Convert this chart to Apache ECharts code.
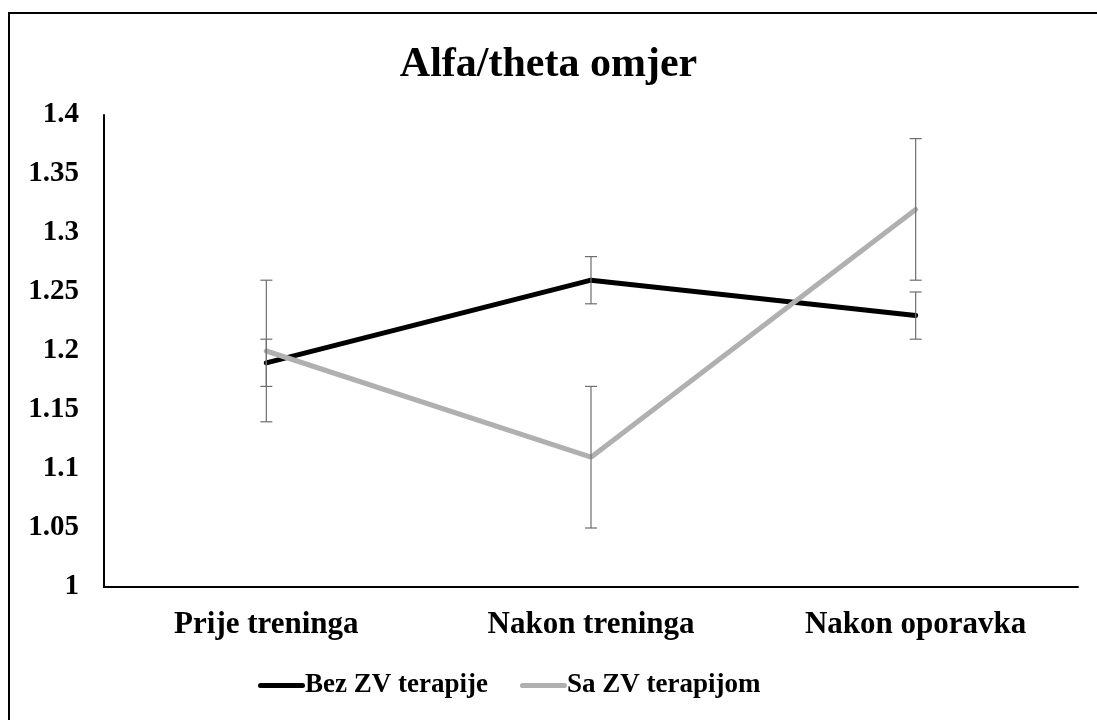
<!DOCTYPE html>
<html>
<head>
<meta charset="utf-8">
<script src="https://cdn.jsdelivr.net/npm/echarts@6/dist/echarts.min.js"></script>
<style>
  html, body { margin: 0; padding: 0; background: #fff; }
  #chart { width: 1097px; height: 720px; }
</style>
</head>
<body>
<div id="chart"></div>
<script>
// data
const categories = ["Prije treninga", "Nakon treninga", "Nakon oporavka"];
const bezValues = [1.19, 1.26, 1.23];
const bezErr = [0.02, 0.02, 0.02];
const saValues = [1.20, 1.11, 1.32];
const saErr = [0.06, 0.06, 0.06];
const yTicks = [1, 1.05, 1.1, 1.15, 1.2, 1.25, 1.3, 1.35, 1.4];

const font = "'Liberation Serif', 'Times New Roman', serif";
const lineIcon = "path://M2.5,0 L44.5,0 A2.5,2.5 0 0 1 44.5,5 L2.5,5 A2.5,2.5 0 0 1 2.5,0 Z";

function errData(vals, errs) {
  return vals.map((v, i) => [i, v - errs[i], v + errs[i]]);
}

function renderErr(params, api) {
  const x = api.value(0);
  const lo = api.coord([x, api.value(1)]);
  const hi = api.coord([x, api.value(2)]);
  const w = 6;
  const style = { stroke: "#6e6e6e", lineWidth: 1.2, fill: null };
  return {
    type: "group",
    children: [
      { type: "line", shape: { x1: hi[0], y1: hi[1], x2: lo[0], y2: lo[1] }, style: style },
      { type: "line", shape: { x1: hi[0] - w, y1: hi[1], x2: hi[0] + w, y2: hi[1] }, style: style },
      { type: "line", shape: { x1: lo[0] - w, y1: lo[1], x2: lo[0] + w, y2: lo[1] }, style: style }
    ]
  };
}

const chart = echarts.init(document.getElementById("chart"));
chart.setOption({
  animation: false,
  graphic: [{
    type: "rect",
    shape: { x: 9, y: 13, width: 1100, height: 720 },
    style: { fill: null, stroke: "#000", lineWidth: 2 },
    silent: true
  }],
  title: {
    text: "Alfa/theta omjer",
    left: "center",
    top: 39,
    textStyle: { fontFamily: font, fontSize: 42, fontWeight: "bold", color: "#000" }
  },
  legend: {
    bottom: 16,
    left: 253,
    itemWidth: 47,
    itemHeight: 5,
    itemGap: 32,
    data: [
      { name: "Bez ZV terapije", icon: lineIcon, itemStyle: { color: "#000" } },
      { name: "Sa ZV terapijom", icon: lineIcon, itemStyle: { color: "#b0b0b0" } }
    ],
    textStyle: { fontFamily: font, fontSize: 27, fontWeight: "bold", color: "#000", padding: [0, 0, 0, -5] }
  },
  grid: { left: 104, right: 19, top: 115, bottom: 133 },
  xAxis: {
    type: "category",
    data: categories,
    boundaryGap: true,
    axisLine: { lineStyle: { color: "#000", width: 2 } },
    axisTick: { show: false },
    axisLabel: { fontFamily: font, fontSize: 31, fontWeight: "bold", color: "#000", margin: 22 }
  },
  yAxis: {
    type: "value",
    min: 1,
    max: 1.4,
    interval: 0.05,
    axisLine: { show: true, lineStyle: { color: "#000", width: 2 } },
    axisTick: { show: false },
    splitLine: { show: false },
    axisLabel: {
      fontFamily: font, fontSize: 29, fontWeight: "bold", color: "#000", margin: 25,
      formatter: v => {
        const t = yTicks.find(k => Math.abs(k - v) < 1e-9);
        return t === undefined ? "" : String(t);
      }
    }
  },
  series: [
    {
      name: "Bez ZV terapije",
      type: "line",
      data: bezValues,
      symbol: "none",
      lineStyle: { color: "#000", width: 5, cap: "round" },
      itemStyle: { color: "#000" },
      z: 3
    },
    {
      name: "Sa ZV terapijom",
      type: "line",
      data: saValues,
      symbol: "none",
      lineStyle: { color: "#b0b0b0", width: 5, cap: "round" },
      itemStyle: { color: "#b0b0b0" },
      z: 3
    },
    {
      type: "custom",
      renderItem: renderErr,
      data: errData(bezValues, bezErr),
      encode: { x: 0, y: [1, 2] },
      z: 4,
      silent: true
    },
    {
      type: "custom",
      renderItem: renderErr,
      data: errData(saValues, saErr),
      encode: { x: 0, y: [1, 2] },
      z: 4,
      silent: true
    }
  ]
});
</script>
</body>
</html>
